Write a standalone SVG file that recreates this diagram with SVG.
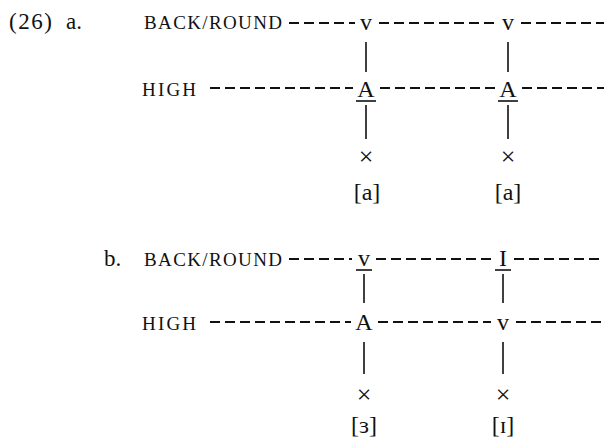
<svg xmlns="http://www.w3.org/2000/svg" width="604" height="437" viewBox="0 0 604 437">
  <style>
    text { font-family: "Liberation Serif", "DejaVu Serif", serif; fill: #111111; }
    .tier { font-size: 19px; }
    .seg { font-size: 24px; text-anchor: middle; }
    .num { font-size: 23px; }
    .out { font-size: 26px; text-anchor: middle; }
    .dash { stroke: #111111; stroke-width: 1.8; stroke-dasharray: 10 5; fill: none; }
    .assoc { stroke: #111111; stroke-width: 1.6; fill: none; }
    .ul { stroke: #111111; stroke-width: 1.6; }
  </style>

  <rect width="604" height="437" fill="#ffffff"/>

  <!-- example labels -->
  <g id="label-26a">
    <text class="num" x="9" y="29" textLength="43" lengthAdjust="spacing">(26)</text>
    <text class="num" x="66" y="29">a.</text>
  </g>
  <g id="label-b">
    <text class="num" x="104" y="266">b.</text>
  </g>

  <!-- tier names -->
  <g id="tier-a-back">
    <text class="tier" x="144" y="29" textLength="138" lengthAdjust="spacing">BACK/ROUND</text>
  </g>
  <g id="tier-a-high">
    <text class="tier" x="142" y="96" textLength="54" lengthAdjust="spacing">HIGH</text>
  </g>
  <g id="tier-b-back">
    <text class="tier" x="144" y="266" textLength="138" lengthAdjust="spacing">BACK/ROUND</text>
  </g>
  <g id="tier-b-high">
    <text class="tier" x="142" y="330" textLength="54" lengthAdjust="spacing">HIGH</text>
  </g>

  <!-- tier lines and association lines -->
  <g id="connectors">
    <!-- (a) back/round tier -->
    <path class="dash" d="M289 23 H355 M379 23 H497 M521 23 H604"/>
    <!-- (a) high tier -->
    <path class="dash" d="M210 88 H353 M380 88 H495 M522 88 H604"/>
    <!-- (a) associations -->
    <path class="assoc" d="M366 42 V72 M366 105 V139 M508 42 V72 M508 105 V139"/>

    <!-- (b) back/round tier -->
    <path class="dash" d="M289 259 H352 M376 259 H493 M514 259 H604"/>
    <!-- (b) high tier -->
    <path class="dash" d="M210 322 H351 M378 322 H491 M516 322 H604"/>
    <!-- (b) associations -->
    <path class="assoc" d="M364 274 V303 M364 342 V374 M503 274 V303 M503 342 V374"/>
  </g>

  <!-- (a) segments -->
  <g id="a-v1"><text class="seg" x="366" y="30">v</text></g>
  <g id="a-v2"><text class="seg" x="508" y="30">v</text></g>
  <g id="a-A1">
    <text class="seg" x="366" y="97">A</text>
    <line class="ul" x1="356" y1="101" x2="376" y2="101"/>
  </g>
  <g id="a-A2">
    <text class="seg" x="508" y="97">A</text>
    <line class="ul" x1="498" y1="101" x2="518" y2="101"/>
  </g>
  <g id="a-x1"><text class="out" x="366" y="165">×</text></g>
  <g id="a-x2"><text class="out" x="508" y="165">×</text></g>
  <g id="a-out1"><text class="seg" x="367" y="200">[a]</text></g>
  <g id="a-out2"><text class="seg" x="508" y="200">[a]</text></g>

  <!-- (b) segments -->
  <g id="b-v">
    <text class="seg" x="364" y="266">v</text>
    <line class="ul" x1="356" y1="270" x2="372" y2="270"/>
  </g>
  <g id="b-I">
    <text class="seg" x="503" y="266">I</text>
    <line class="ul" x1="495" y1="270" x2="511" y2="270"/>
  </g>
  <g id="b-A"><text class="seg" x="364" y="330">A</text></g>
  <g id="b-v2"><text class="seg" x="503" y="330">v</text></g>
  <g id="b-x1"><text class="out" x="364" y="403">×</text></g>
  <g id="b-x2"><text class="out" x="503" y="403">×</text></g>
  <g id="b-out1"><text class="seg" x="364" y="433">[ɜ]</text></g>
  <g id="b-out2"><text class="seg" x="503" y="433">[ɪ]</text></g>
</svg>
